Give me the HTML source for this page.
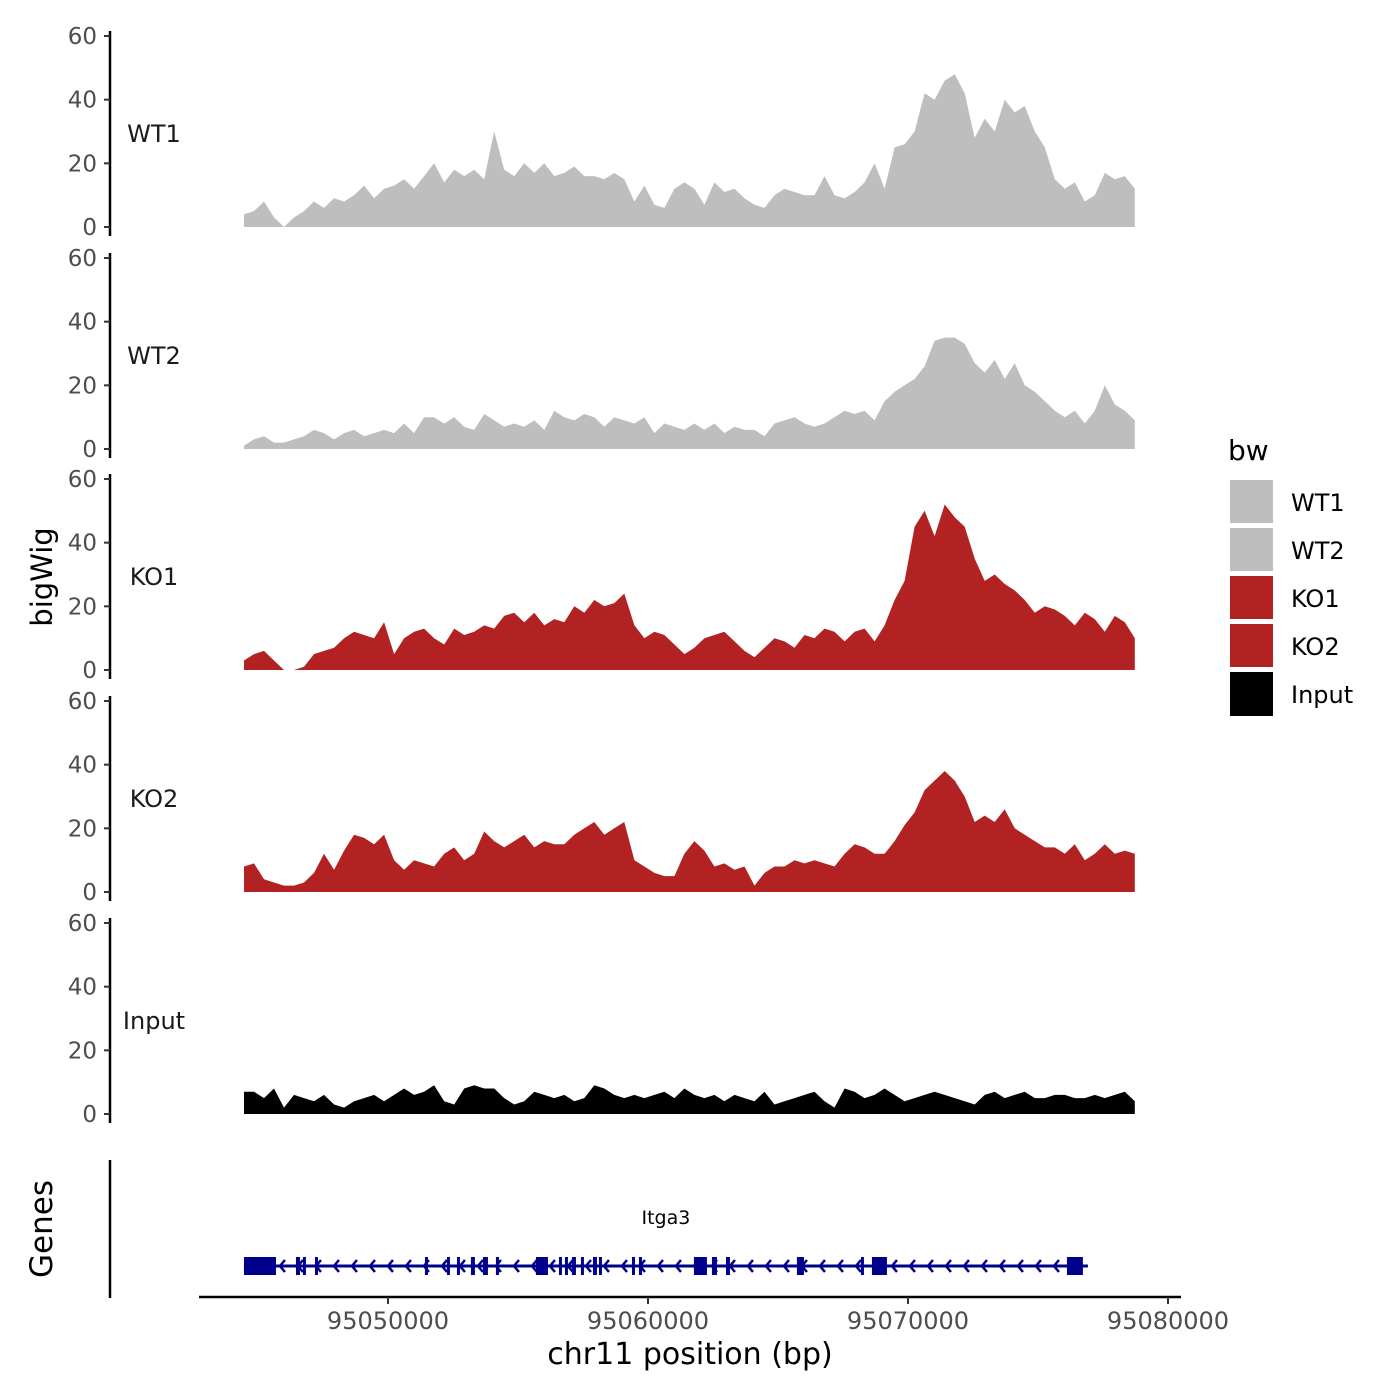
<!DOCTYPE html>
<html><head><meta charset="utf-8"><style>
html,body{margin:0;padding:0;background:#fff;}
svg{display:block;font-family:"DejaVu Sans","Liberation Sans",sans-serif;}
</style></head><body>
<svg id="chart" width="1400" height="1400" viewBox="0 0 1400 1400" xmlns="http://www.w3.org/2000/svg">
<rect width="1400" height="1400" fill="#fff"/>
<g id="panels"></g>
<g id="genes"></g>
<text x="52" y="577" font-size="29" text-anchor="middle" transform="rotate(-90 52 577)">bigWig</text>
<text x="52" y="1229" font-size="31" text-anchor="middle" transform="rotate(-90 52 1229)">Genes</text>
<text x="690" y="1364" font-size="30" text-anchor="middle">chr11 position (bp)</text>
<g>
<text x="1228" y="460" font-size="28">bw</text>
<rect x="1230" y="480" width="43" height="43" fill="#bebebe"/>
<rect x="1230" y="528" width="43" height="43" fill="#bebebe"/>
<rect x="1230" y="576" width="43" height="43" fill="#b22222"/>
<rect x="1230" y="624" width="43" height="43" fill="#b22222"/>
<rect x="1230" y="672" width="43" height="44" fill="#000"/>
<text x="1291" y="511" font-size="24">WT1</text>
<text x="1291" y="559" font-size="24">WT2</text>
<text x="1291" y="607" font-size="24">KO1</text>
<text x="1291" y="655" font-size="24">KO2</text>
<text x="1291" y="703" font-size="24">Input</text>
</g>
</svg>
<script>
const trackNames = ["WT1","WT2","KO1","KO2","Input"];
const trackColors = ["#bebebe","#bebebe","#b22222","#b22222","#000000"];
const binStart = 95044460;
const binSize = 385;
const wt1 = [4,5,8,3,0,3,5,8,6,9,8,10,13,9,12,13,15,12,16,20,14,18,16,18,15,30,18,16,20,17,20,16,17,19,16,16,15,17,15,8,13,7,6,12,14,12,7,14,11,12,9,7,6,10,12,11,10,10,16,10,9,11,14,20,12,25,26,30,42,40,46,48,42,28,34,30,40,36,38,30,25,15,12,14,8,10,17,15,16,12];
const wt2 = [1,3,4,2,2,3,4,6,5,3,5,6,4,5,6,5,8,5,10,10,8,10,7,6,11,9,7,8,7,9,6,12,10,9,11,10,7,10,9,8,10,5,8,7,6,8,6,8,5,7,6,6,4,8,9,10,8,7,8,10,12,11,12,9,15,18,20,22,26,34,35,35,33,27,24,28,22,27,20,18,15,12,10,12,8,12,20,14,12,9];
const ko1 = [3,5,6,3,0,0,1,5,6,7,10,12,11,10,15,5,10,12,13,10,8,13,11,12,14,13,17,18,15,18,14,16,15,20,18,22,20,21,24,14,10,12,11,8,5,7,10,11,12,9,6,4,7,10,9,7,11,10,13,12,9,12,13,9,14,22,28,45,50,42,52,48,45,35,28,30,27,25,22,18,20,19,17,14,18,16,12,17,15,10];
const ko2 = [8,9,4,3,2,2,3,6,12,7,13,18,17,15,18,10,7,10,9,8,12,14,10,12,19,16,14,16,18,14,16,15,15,18,20,22,18,20,22,10,8,6,5,5,12,16,13,8,9,7,8,2,6,8,8,10,9,10,9,8,12,15,14,12,12,16,21,25,32,35,38,35,30,22,24,22,26,20,18,16,14,14,12,15,10,12,15,12,13,12];
const inputSig = [7,7,5,8,2,6,5,4,6,3,2,4,5,6,4,6,8,6,7,9,4,3,8,9,8,8,5,3,4,7,6,5,6,4,5,9,8,6,5,6,5,6,7,5,8,6,5,6,4,6,5,4,7,3,4,5,6,7,4,2,8,7,5,6,8,6,4,5,6,7,6,5,4,3,6,7,5,6,7,5,5,6,6,5,5,6,5,6,7,4];
const series = [wt1,wt2,ko1,ko2,inputSig];
const yTicks = [0,20,40,60];
const xTicks = [95050000,95060000,95070000,95080000];
const geneName = "Itga3";
const geneStart = 95044460;
const geneEnd = 95076920;
const exonStarts = [95044460,95046460,95046729,95047191,95051421,95052267,95052652,95053190,95053652,95054152,95055690,95056575,95056806,95057075,95057421,95057883,95058113,95059383,95059652,95061767,95062459,95063000,95065728,95068190,95068613,95076113];
const exonEnds = [95045691,95046614,95046844,95047306,95051536,95052383,95052767,95053344,95053844,95054267,95056152,95056690,95056921,95057229,95057536,95058037,95058229,95059498,95059767,95062267,95062652,95063152,95065998,95068305,95069190,95076727];

const NS="http://www.w3.org/2000/svg";
function mk(tag, attrs, parent){const e=document.createElementNS(NS,tag);for(const k in attrs)e.setAttribute(k,attrs[k]);parent.appendChild(e);return e;}
function xScale(bp){return 388 + (bp-95050000)/30000*780;}
const panelZero = [227,449,670,892,1114];
const pxPerUnit = 191/60;
function yScale(p,v){return panelZero[p]-v*pxPerUnit;}

const panels=document.getElementById('panels');
for(let p=0;p<series.length;p++){
  const g=mk('g',{},panels);
  
  
  const vals=series[p];
  let d='M'+xScale(binStart).toFixed(1)+','+yScale(p,0);
  for(let i=0;i<vals.length;i++){d+=' L'+xScale(binStart+i*binSize).toFixed(1)+','+yScale(p,vals[i]).toFixed(1);}
  d+=' L'+xScale(binStart+(vals.length-1)*binSize).toFixed(1)+','+yScale(p,0)+' Z';
  const area=mk('path',{d:d,fill:trackColors[p]},g);
  
  
  const ax=mk('line',{x1:110,x2:110,y1:yScale(p,60)-5,y2:yScale(p,0)+9,stroke:'#000','stroke-width':2.5},g);
  
  
  for(const t of yTicks){
    const y=yScale(p,t);
    const tk=mk('line',{x1:104,x2:110,y1:y,y2:y,stroke:'#333','stroke-width':2},g);
    
    
    const tl=mk('text',{x:97,y:y+8,'font-size':23,'text-anchor':'end',fill:'#4d4d4d'},g);
    tl.textContent=t;
    
    
  }
  const lab=mk('text',{x:154,y:yScale(p,0)-85,'font-size':24,'text-anchor':'middle',fill:'#1a1a1a'},g);
  lab.textContent=trackNames[p];
  
  
}

const gg=document.getElementById('genes');
const gy=1266;
let a=mk('line',{x1:110,x2:110,y1:1160,y2:1298,stroke:'#000','stroke-width':2.5},gg);


a=mk('line',{x1:199,x2:1181,y1:1297,y2:1297,stroke:'#000','stroke-width':2.5},gg);


for(const t of xTicks){
  const x=xScale(t);
  const tk=mk('line',{x1:x,x2:x,y1:1297,y2:1304,stroke:'#333','stroke-width':2},gg);
  
  
  const tl=mk('text',{x:x,y:1329,'font-size':24,'text-anchor':'middle',fill:'#4d4d4d'},gg);
  tl.textContent=t;
  
  
}
const gl=mk('line',{x1:xScale(geneStart),x2:xScale(geneEnd),y1:gy,y2:gy,stroke:'#00008b','stroke-width':3},gg);


for(let x=xScale(geneStart)+36;x<xScale(geneEnd);x+=18){
  const ch=mk('path',{d:`M${x+5},${gy-6} L${x},${gy} L${x+5},${gy+6}`,fill:'none',stroke:'#00008b','stroke-width':2.5},gg);
  
  
}
for(let i=0;i<exonStarts.length;i++){
  const x1=xScale(exonStarts[i]),x2=xScale(exonEnds[i]);
  const r=mk('rect',{x:x1,y:gy-9,width:Math.max(3,x2-x1),height:18,fill:'#00008b'},gg);
  
  
}
const gt=mk('text',{x:(xScale(geneStart)+xScale(geneEnd))/2,y:1224,'font-size':19,'text-anchor':'middle',fill:'#000'},gg);
gt.textContent=geneName;


</script>
</body></html>
